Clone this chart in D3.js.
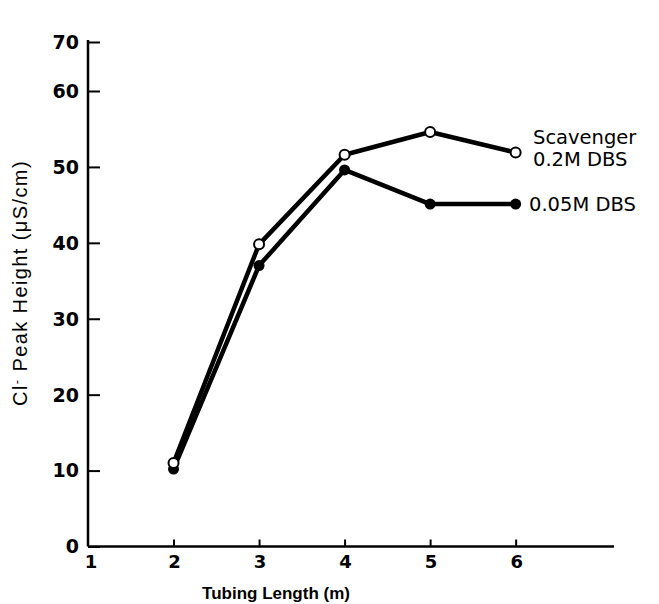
<!DOCTYPE html>
<html>
<head>
<meta charset="utf-8">
<script src="https://cdn.jsdelivr.net/npm/d3@7"></script>
<style>
  html, body { margin: 0; padding: 0; background: #fff; }
  svg { display: block; font-family: "Liberation Sans", Arial, sans-serif; }
</style>
</head>
<body>
<svg id="chart" width="659" height="604"></svg>
<script>
// ---- data ----
const tubingLength = [2, 3, 4, 5, 6];
const dbs02 = [11.0, 39.8, 51.6, 54.6, 51.9];   // Scavenger 0.2M DBS (open circles)
const dbs005 = [10.2, 37.0, 49.6, 45.1, 45.1];  // 0.05M DBS (filled circles)
const xTickValues = [2, 3, 4, 5, 6];
const xTickLabels = ["1", "2", "3", "4", "5", "6"];
const yTickValues = [0, 10, 20, 30, 40, 50, 60, 70];
const seriesNames = ["Scavenger", "0.2M DBS", "0.05M DBS"];

const svg = d3.select("#chart");

const x = d3.scaleLinear().domain([1, 7.15]).range([88, 614]);
// the printed axis compresses its top interval (60-70)
const y = d3.scaleLinear().domain([0, 60, 70]).range([546.5, 91, 42]);

// y axis
const yAxis = d3.axisRight(y).tickValues(yTickValues).tickSize(12).tickFormat("");
const gy = svg.append("g").attr("transform", `translate(${x(1)},0)`).call(yAxis);
gy.select(".domain").attr("stroke", "#000").attr("stroke-width", 2.5).attr("d", `M0,${y(70)-2}V${y(0)}`);
gy.selectAll(".tick line").attr("stroke", "#000").attr("stroke-width", 2);

svg.append("g").selectAll("text").data(yTickValues).join("text")
  .attr("x", 79).attr("y", d => y(d)).attr("dy", "0.36em")
  .attr("text-anchor", "end").attr("font-size", 19).attr("font-weight", "bold")
  .attr("font-family", "DejaVu Sans")
  .text(d => d);

// x axis
const xAxis = d3.axisTop(x).tickValues(xTickValues).tickSize(7).tickFormat("");
const gx = svg.append("g").attr("transform", `translate(0,${y(0)})`).call(xAxis);
gx.select(".domain").attr("stroke", "#000").attr("stroke-width", 2.5).attr("d", `M${x(1)},0H${x(7.15)}`);
gx.selectAll(".tick line").attr("stroke", "#000").attr("stroke-width", 2);

svg.append("g").selectAll("text").data(xTickLabels).join("text")
  .attr("x", (d) => x(+d) + (d === "1" ? 3 : 1)).attr("y", 568)
  .attr("text-anchor", "middle").attr("font-size", 18).attr("font-weight", "bold")
  .attr("font-family", "DejaVu Sans")
  .text(d => d);

// axis titles
svg.append("text").attr("x", 276).attr("y", 599).attr("text-anchor", "middle")
  .attr("font-size", 17).attr("font-weight", "bold").text("Tubing  Length  (m)");

const yt = svg.append("text").attr("transform", `translate(27,283) rotate(-90)`)
  .attr("text-anchor", "middle").attr("font-size", 20).attr("letter-spacing", 1.4)
  .attr("fill", "#000");
yt.append("tspan").text("Cl");
yt.append("tspan").attr("dy", -6).attr("font-size", 13).text("-");
yt.append("tspan").attr("dy", 6).text(" Peak Height (μS/cm)");

// lines
const line = d3.line().x((d, i) => x(tubingLength[i])).y(d => y(d));
svg.append("path").datum(dbs005).attr("d", line).attr("fill", "none")
  .attr("stroke", "#000").attr("stroke-width", 4.5).attr("stroke-linejoin", "round");
svg.append("path").datum(dbs02).attr("d", line).attr("fill", "none")
  .attr("stroke", "#000").attr("stroke-width", 4.5).attr("stroke-linejoin", "round");

svg.append("g").selectAll("circle").data(dbs005).join("circle")
  .attr("cx", (d, i) => x(tubingLength[i])).attr("cy", d => y(d)).attr("r", 5.5)
  .attr("fill", "#000");
svg.append("g").selectAll("circle").data(dbs02).join("circle")
  .attr("cx", (d, i) => x(tubingLength[i])).attr("cy", d => y(d)).attr("r", 5)
  .attr("fill", "#fff").attr("stroke", "#000").attr("stroke-width", 2);

// series labels
const lab = svg.append("g").attr("font-size", 19.5).attr("font-family", "DejaVu Sans");
lab.append("text").attr("x", 533).attr("y", y(dbs02[4]) - 8).text(seriesNames[0]);
lab.append("text").attr("x", 533).attr("y", y(dbs02[4]) + 14).text(seriesNames[1]);
lab.append("text").attr("x", 529).attr("y", y(dbs005[4])).attr("dy", "0.36em").text(seriesNames[2]);
</script>
</body>
</html>
